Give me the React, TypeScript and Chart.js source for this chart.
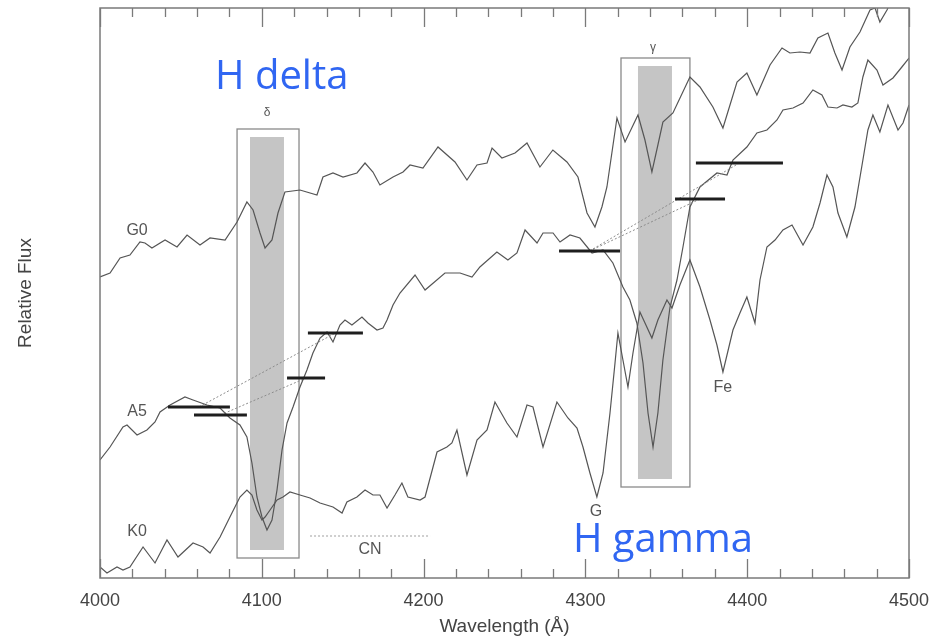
import React, { useEffect, useRef } from "react";
import { Chart, registerables } from "chart.js";

Chart.register(...registerables);

// ---------- axis ----------
const X_MIN = 4000;
const X_MAX = 4500;
const X_MAJOR = 100;
const X_MINOR = 20;
const Y_MIN = 0;
const Y_MAX = 57;

// ---------- spectra (wavelength Å, relative flux) ----------
const G0_WAVE = [4000, 4006.2, 4012.4, 4018.5, 4024.7, 4027.8, 4032.1, 4040.2, 4047.6, 4053.8, 4061.8, 4068.0, 4077.3, 4084.7, 4090.8, 4094.6, 4098.9, 4102.0, 4106.3, 4110.0, 4114.3, 4123.6, 4134.1, 4137.8, 4144.0, 4150.2, 4158.8, 4163.8, 4168.7, 4173.0, 4181.1, 4187.3, 4191.6, 4199.6, 4208.9, 4219.4, 4226.8, 4233.0, 4239.2, 4242.3, 4248.4, 4256.5, 4263.9, 4271.9, 4279.9, 4288.6, 4295.4, 4301.0, 4305.9, 4310.2, 4313.3, 4319.5, 4324.5, 4332.5, 4336.8, 4341.1, 4344.8, 4347.9, 4354.1, 4364.6, 4370.8, 4378.8, 4385.0, 4393.7, 4399.8, 4406.0, 4414.1, 4421.5, 4426.4, 4432.6, 4438.8, 4443.7, 4449.9, 4454.2, 4458.6, 4463.5, 4469.7, 4475.9, 4479.0, 4482.0, 4486.4, 4491.3];
const G0_FLUX = [30.1, 30.5, 32.0, 32.3, 33.6, 33.5, 33.0, 33.8, 33.1, 34.3, 33.3, 34.0, 33.8, 35.6, 37.6, 36.8, 34.5, 33.0, 33.8, 36.5, 38.6, 38.8, 38.3, 40.1, 40.5, 40.1, 40.5, 41.5, 40.6, 39.3, 40.1, 40.6, 41.3, 41.0, 43.1, 41.6, 39.8, 41.3, 41.5, 43.0, 42.0, 42.5, 43.5, 41.1, 42.8, 41.6, 40.1, 36.5, 35.1, 37.1, 39.1, 46.0, 43.6, 46.3, 43.8, 40.6, 43.3, 45.6, 46.5, 50.1, 49.1, 47.1, 45.0, 49.6, 50.5, 48.3, 51.3, 53.0, 52.5, 52.6, 52.5, 54.0, 54.5, 52.5, 50.8, 53.1, 54.6, 56.8, 57.0, 55.6, 56.8, 58.6];

const A5_WAVE = [4000, 4006.2, 4014.2, 4016.7, 4022.9, 4029.0, 4034.0, 4037.1, 4043.3, 4052.5, 4057.5, 4066.1, 4074.2, 4080.3, 4086.5, 4090.8, 4093.9, 4097.0, 4100.1, 4103.2, 4106.3, 4109.4, 4112.5, 4115.6, 4119.3, 4123.6, 4127.9, 4131.6, 4136.0, 4140.3, 4144.0, 4148.3, 4151.4, 4155.7, 4161.9, 4165.6, 4171.2, 4174.9, 4177.4, 4181.1, 4185.4, 4194.7, 4200.9, 4213.2, 4222.5, 4229.9, 4234.8, 4245.3, 4252.1, 4257.7, 4262.7, 4270.1, 4273.8, 4280.0, 4284.3, 4290.5, 4296.6, 4304.1, 4310.9, 4317.0, 4323.2, 4327.5, 4331.8, 4335.6, 4338.7, 4341.8, 4344.8, 4347.9, 4352.3, 4356.6, 4360.3, 4364.6, 4370.8, 4381.3, 4387.5, 4391.2, 4399.8, 4406.0, 4412.2, 4418.4, 4422.1, 4428.3, 4434.5, 4440.6, 4446.2, 4449.9, 4455.5, 4459.2, 4464.7, 4468.4, 4471.5, 4474.6, 4480.2, 4483.9, 4490.1, 4495.6, 4500];
const A5_FLUX = [11.8, 13.1, 15.1, 15.3, 14.3, 14.8, 15.6, 16.6, 17.3, 18.1, 17.8, 17.3, 17.0, 16.0, 15.3, 14.1, 11.5, 8.1, 6.1, 4.8, 5.8, 8.8, 12.8, 15.5, 17.1, 19.1, 20.8, 22.5, 24.0, 24.6, 23.6, 25.3, 25.8, 25.3, 26.1, 25.5, 24.8, 25.0, 25.8, 27.3, 28.5, 30.3, 28.8, 30.5, 30.5, 30.1, 31.1, 32.6, 31.8, 32.5, 34.8, 33.5, 34.5, 34.5, 33.6, 34.3, 34.0, 32.5, 32.8, 31.5, 29.1, 27.8, 25.5, 21.5, 16.5, 13.1, 16.5, 21.8, 27.1, 29.8, 33.1, 37.1, 39.1, 40.5, 40.3, 41.8, 43.1, 44.5, 44.8, 45.8, 46.8, 47.0, 47.5, 48.8, 48.3, 47.1, 47.0, 47.3, 47.1, 47.5, 50.1, 51.8, 50.8, 49.3, 50.0, 51.1, 52.0];

const K0_WAVE = [4000, 4004.3, 4010.5, 4014.2, 4018.5, 4026.6, 4034.0, 4041.4, 4048.2, 4057.5, 4063.7, 4068.0, 4074.2, 4080.3, 4086.5, 4090.8, 4093.9, 4097.0, 4100.1, 4102.0, 4105.1, 4109.4, 4113.1, 4117.4, 4123.6, 4129.8, 4136.0, 4144.0, 4149.6, 4152.6, 4158.8, 4163.8, 4168.7, 4173.0, 4177.4, 4182.3, 4186.6, 4190.3, 4197.8, 4200.9, 4208.3, 4214.4, 4217.5, 4220.6, 4226.8, 4233.0, 4239.2, 4244.1, 4251.5, 4257.7, 4263.9, 4267.6, 4273.8, 4282.4, 4289.2, 4294.8, 4298.5, 4302.8, 4307.1, 4310.9, 4315.2, 4318.3, 4320.1, 4323.2, 4326.3, 4329.4, 4333.7, 4337.4, 4341.1, 4344.8, 4350.4, 4353.5, 4358.4, 4364.6, 4370.8, 4377.0, 4381.3, 4385.0, 4391.2, 4395.5, 4399.8, 4404.8, 4407.9, 4412.2, 4417.2, 4422.1, 4427.7, 4434.5, 4440.6, 4445.0, 4449.3, 4453.0, 4456.1, 4461.6, 4466.6, 4471.5, 4474.6, 4477.7, 4482.0, 4487.0, 4493.2, 4496.3, 4500];
const K0_FLUX = [1.1, 0.5, 1.1, 0.8, 1.1, 3.1, 1.5, 3.8, 2.1, 3.5, 3.1, 2.5, 4.1, 6.1, 8.1, 8.8, 8.3, 6.8, 5.8, 6.1, 6.8, 7.8, 8.1, 8.6, 8.3, 8.0, 7.5, 7.1, 6.5, 7.6, 8.1, 8.8, 8.3, 8.3, 7.0, 8.3, 9.5, 8.1, 7.8, 8.1, 12.6, 13.1, 13.5, 14.8, 10.3, 13.8, 14.8, 17.6, 15.5, 14.1, 17.3, 17.1, 13.1, 17.6, 16.0, 15.0, 13.1, 10.5, 8.1, 10.5, 16.5, 21.5, 24.5, 21.8, 19.1, 22.5, 26.6, 25.3, 24.0, 25.8, 27.8, 27.0, 29.3, 31.8, 29.1, 25.8, 23.3, 20.6, 24.8, 26.5, 28.1, 25.5, 29.8, 33.1, 33.8, 34.8, 35.3, 33.3, 35.1, 37.5, 40.3, 39.1, 36.5, 34.1, 37.1, 41.8, 44.8, 46.3, 44.6, 47.3, 44.8, 45.5, 47.3];

// ---------- continuum bands (black bars) ----------
const BAR_START = [4042.0, 4058.1, 4115.6, 4128.5, 4283.7, 4355.4, 4368.3];
const BAR_END = [4080.3, 4090.8, 4139.1, 4162.5, 4321.4, 4386.3, 4422.1];
const BAR_FLUX = [17.1, 16.3, 20.0, 24.5, 32.7, 37.9, 41.5];
const BAR_LINKS = [[0, 3], [1, 2], [4, 5], [4, 6]];

// ---------- CN band ----------
const CN_WAVE = [4129.8, 4204.0];
const CN_FLUX = [4.2, 4.2];

// ---------- line windows (outline box and shaded core) ----------
const BOX_WAVE_START = [4084.7, 4322.0];
const BOX_WAVE_END = [4123.0, 4364.6];
const BOX_FLUX_LOW = [2.0, 9.1];
const BOX_FLUX_HIGH = [44.9, 52.0];
const CORE_WAVE_START = [4092.7, 4332.5];
const CORE_WAVE_END = [4113.7, 4353.5];
const CORE_FLUX_LOW = [2.8, 9.9];
const CORE_FLUX_HIGH = [44.1, 51.2];

// ---------- small labels ----------
const LABEL_TEXT = ["G0", "A5", "K0", "CN", "G", "Fe", "δ", "γ"];
const LABEL_WAVE = [4022.9, 4022.9, 4022.9, 4166.9, 4306.5, 4385.0, 4103.2, 4341.8];
const LABEL_FLUX = [34.7, 16.6, 4.6, 2.8, 6.6, 19.0, 46.5, 53.0];

// ---------- big annotation labels ----------
const NOTE_TEXT = ["H delta", "H gamma"];
const NOTE_WAVE = [4071.1, 4292.3];
const NOTE_FLUX = [48.9, 2.6];

const pts = (xs: number[], ys: number[]) => xs.map((x, i) => ({ x, y: ys[i] }));

const decorPlugin = {
  id: "decor",
  beforeDatasetsDraw(chart: any) {
    const { ctx, scales } = chart;
    const x = scales.x;
    const y = scales.y;
    ctx.save();
    ctx.fillStyle = "#c5c5c5";
    for (let i = 0; i < CORE_WAVE_START.length; i++) {
      const x0 = x.getPixelForValue(CORE_WAVE_START[i]);
      const x1 = x.getPixelForValue(CORE_WAVE_END[i]);
      const y0 = y.getPixelForValue(CORE_FLUX_HIGH[i]);
      const y1 = y.getPixelForValue(CORE_FLUX_LOW[i]);
      ctx.fillRect(x0, y0, x1 - x0, y1 - y0);
    }
    ctx.strokeStyle = "#8a8a8a";
    ctx.lineWidth = 1.3;
    for (let i = 0; i < BOX_WAVE_START.length; i++) {
      const x0 = x.getPixelForValue(BOX_WAVE_START[i]);
      const x1 = x.getPixelForValue(BOX_WAVE_END[i]);
      const y0 = y.getPixelForValue(BOX_FLUX_HIGH[i]);
      const y1 = y.getPixelForValue(BOX_FLUX_LOW[i]);
      ctx.strokeRect(x0, y0, x1 - x0, y1 - y0);
    }
    ctx.restore();
  },
  afterDatasetsDraw(chart: any) {
    const { ctx, scales, chartArea } = chart;
    const x = scales.x;
    const y = scales.y;
    const { left, right, top, bottom } = chartArea;
    ctx.save();
    // frame
    ctx.strokeStyle = "#7a7a7a";
    ctx.lineWidth = 1.5;
    ctx.strokeRect(left, top, right - left, bottom - top);
    // inward ticks on bottom and top
    ctx.lineWidth = 1.3;
    ctx.beginPath();
    for (let v = X_MIN; v <= X_MAX; v += X_MINOR) {
      const px = Math.round(x.getPixelForValue(v)) + 0.5;
      const len = v % X_MAJOR === 0 ? 19 : 9;
      ctx.moveTo(px, bottom);
      ctx.lineTo(px, bottom - len);
      ctx.moveTo(px, top);
      ctx.lineTo(px, top + len);
    }
    ctx.stroke();
    // small labels
    ctx.fillStyle = "#555";
    ctx.textAlign = "center";
    ctx.textBaseline = "middle";
    for (let i = 0; i < LABEL_TEXT.length; i++) {
      const small = LABEL_TEXT[i] === "δ" || LABEL_TEXT[i] === "γ";
      ctx.font = small ? "12px 'Liberation Sans', Arial, sans-serif" : "16px 'Liberation Sans', Arial, sans-serif";
      ctx.fillText(LABEL_TEXT[i], x.getPixelForValue(LABEL_WAVE[i]), y.getPixelForValue(LABEL_FLUX[i]));
    }
    // big blue annotations
    ctx.fillStyle = "#3066f2";
    ctx.textAlign = "left";
    ctx.textBaseline = "alphabetic";
    ctx.font = "40px 'Open Sans', sans-serif";
    for (let i = 0; i < NOTE_TEXT.length; i++) {
      ctx.fillText(NOTE_TEXT[i], x.getPixelForValue(NOTE_WAVE[i]), y.getPixelForValue(NOTE_FLUX[i]));
    }
    ctx.restore();
  },
};

export default function App() {
  const canvasRef = useRef<HTMLCanvasElement | null>(null);

  useEffect(() => {
    if (!canvasRef.current) return;
    const spectrum = (label: string, xs: number[], ys: number[]) => ({
      label,
      data: pts(xs, ys),
      borderColor: "#555555",
      borderWidth: 1.2,
      pointRadius: 0,
      tension: 0,
      fill: false,
    });
    const bars = BAR_START.map((s, i) => ({
      label: "band" + i,
      data: pts([s, BAR_END[i]], [BAR_FLUX[i], BAR_FLUX[i]]),
      borderColor: "#1e1e1e",
      borderWidth: 3,
      pointRadius: 0,
      fill: false,
    }));
    const links = BAR_LINKS.map(([a, b], i) => ({
      label: "link" + i,
      data: pts(
        [(BAR_START[a] + BAR_END[a]) / 2, (BAR_START[b] + BAR_END[b]) / 2],
        [BAR_FLUX[a], BAR_FLUX[b]]
      ),
      borderColor: "#8c8c8c",
      borderWidth: 1,
      borderDash: [2, 2],
      pointRadius: 0,
      fill: false,
    }));
    const cn = {
      label: "CN",
      data: pts(CN_WAVE, CN_FLUX),
      borderColor: "#a0a0a0",
      borderWidth: 1,
      borderDash: [2, 2],
      pointRadius: 0,
      fill: false,
    };

    const chart = new Chart(canvasRef.current, {
      type: "line",
      data: {
        datasets: [
          ...bars,
          ...links,
          cn,
          spectrum("G0", G0_WAVE, G0_FLUX),
          spectrum("A5", A5_WAVE, A5_FLUX),
          spectrum("K0", K0_WAVE, K0_FLUX),
        ] as any,
      },
      options: {
        animation: false,
        responsive: false,
        maintainAspectRatio: false,
        layout: { padding: { top: 8, right: 35, left: 0, bottom: 0 } },
        plugins: {
          legend: { display: false },
          tooltip: { enabled: false },
        },
        scales: {
          x: {
            type: "linear",
            min: X_MIN,
            max: X_MAX,
            grid: { display: false, drawTicks: false, tickLength: 0 },
            border: { display: false },
            ticks: {
              stepSize: X_MAJOR,
              padding: 12,
              color: "#444",
              font: { family: "'Liberation Sans', Arial, sans-serif", size: 18 },
              maxRotation: 0,
              autoSkip: false,
              callback: (v: any) => String(v),
            },
            title: {
              display: true,
              text: "Wavelength (Å)",
              color: "#444",
              font: { family: "'Liberation Sans', Arial, sans-serif", size: 19 },
              padding: { top: 0, bottom: 4 },
            },
            afterFit: (s: any) => {
              s.height = 64;
              s.paddingLeft = 0;
              s.paddingRight = 0;
            },
          },
          y: {
            type: "linear",
            min: Y_MIN,
            max: Y_MAX,
            grid: { display: false, drawTicks: false, tickLength: 0 },
            border: { display: false },
            ticks: { display: false },
            title: {
              display: true,
              text: "Relative Flux",
              color: "#444",
              font: { family: "'Liberation Sans', Arial, sans-serif", size: 19 },
              padding: { top: 14, bottom: 0 },
            },
            afterFit: (s: any) => {
              s.width = 100;
              s.paddingTop = 0;
              s.paddingBottom = 0;
            },
          },
        },
      } as any,
      plugins: [decorPlugin],
    });
    return () => chart.destroy();
  }, []);

  return (
    <div style={{ position: "absolute", left: 0, top: 0, width: 944, height: 642, background: "#fff" }}>
      <canvas ref={canvasRef} width={944} height={642} />
    </div>
  );
}
